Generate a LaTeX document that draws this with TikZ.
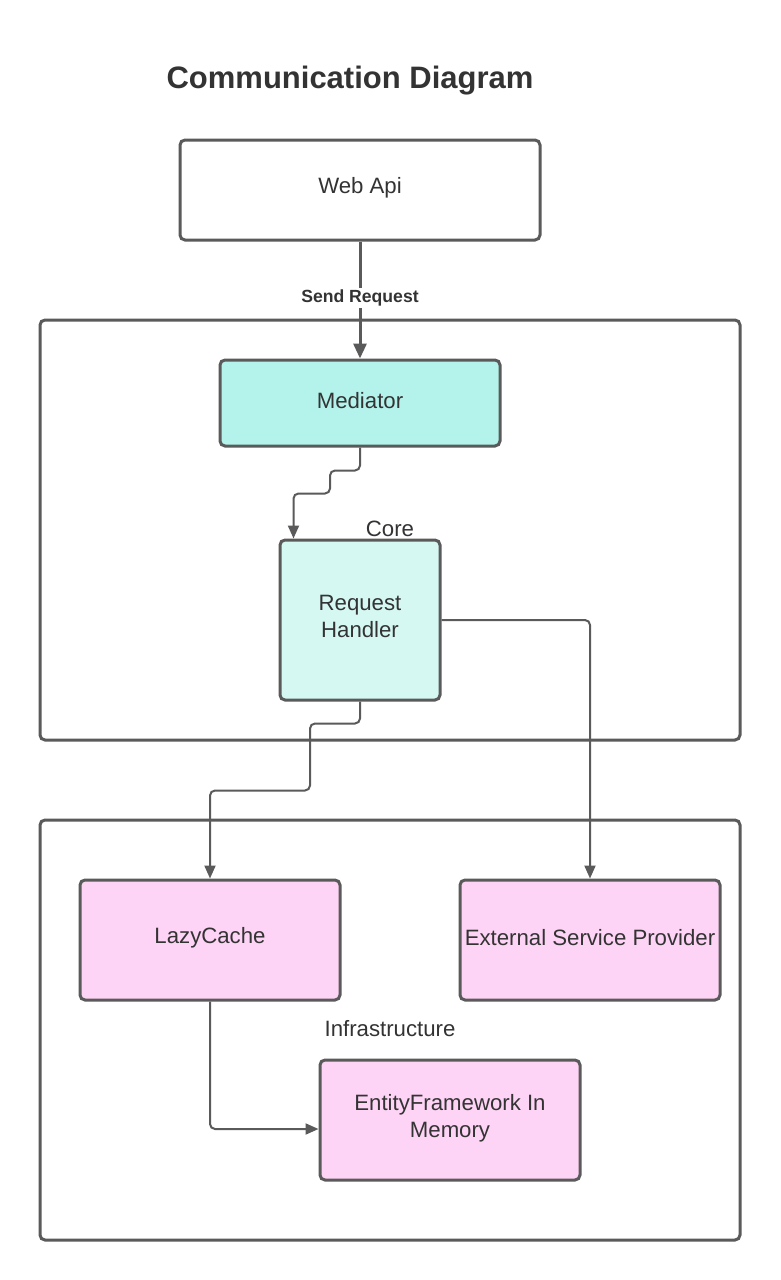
\documentclass[tikz,border=0pt]{standalone}
\usepackage{fontspec}
\setmainfont{Liberation Sans}
\usetikzlibrary{arrows.meta}
\definecolor{strk}{HTML}{5A5A5A}
\definecolor{txt}{HTML}{333333}
\definecolor{medfill}{HTML}{B3F3EB}
\definecolor{rhfill}{HTML}{D6F8F3}
\definecolor{pinkfill}{HTML}{FDD4F5}
\tikzset{
  box/.style={draw=strk, line width=3pt, rounded corners=5pt, fill=white, inner sep=0pt},
  boxlbl/.style={text=txt, font=\fontsize{22.2}{27}\selectfont, align=center, inner sep=0pt, yshift=2pt},
  container/.style={draw=strk, line width=3pt, rounded corners=5pt, inner sep=0pt},
  lbl/.style={text=txt, font=\fontsize{22.2}{27}\selectfont, inner sep=0pt},
  conn/.style={draw=strk, line width=2pt, rounded corners=5pt,
    -{Triangle[length=13pt,width=11pt]}},
  thick conn/.style={draw=strk, line width=3pt,
    -{Triangle[length=15pt,width=13pt]}}
}
\begin{document}
\begin{tikzpicture}[x=1pt,y=-1pt]
\useasboundingbox[fill=white] (0,0) rectangle (780,1280);

\node[text=txt, font=\fontsize{31}{36}\selectfont\bfseries, inner sep=0pt] (title) at (350,80.5) {Communication Diagram};

\node[container, minimum width=700pt, minimum height=420pt] (core) at (390,530) {};
\node[container, minimum width=700pt, minimum height=420pt] (infra) at (390,1030) {};

\node[box, minimum width=360pt, minimum height=100pt, label={[boxlbl]center:{Web Api}}] (web) at (360,190) {};
\node[box, fill=medfill, minimum width=280pt, minimum height=86pt, label={[boxlbl]center:{Mediator}}] (med) at (360,403) {};
\node[box, fill=rhfill, minimum width=160pt, minimum height=160pt, label={[boxlbl, yshift=1.5pt]center:{Request\\Handler}}] (rh) at (360,620) {};
\node[box, fill=pinkfill, minimum width=260pt, minimum height=120pt, label={[boxlbl]center:{LazyCache}}] (lazy) at (210,940) {};
\node[box, fill=pinkfill, minimum width=260pt, minimum height=120pt, label={[boxlbl]center:{External Service Provider}}] (esp) at (590,940) {};
\node[box, fill=pinkfill, minimum width=260pt, minimum height=120pt, label={[boxlbl]center:{EntityFramework In\\Memory}}] (ef) at (450,1120) {};

\node[lbl] (corelbl) at (390,529) {Core};
\node[lbl] (infralbl) at (390,1029) {Infrastructure};

\draw[thick conn] (web.south) -- (med.north);
\node[fill=white, text=txt, font=\fontsize{17.6}{21}\selectfont\bfseries, inner sep=2pt] (send) at (360,298) {Send Request};

\draw[conn] (med.south) -- ++(0,23) -| ++(-30,23) -| ([xshift=15pt]rh.north west);
\draw[conn] (rh.south) -- ++(0,22) -| ++(-50,67) -| (lazy.north);
\draw[conn] (rh.east) -| (esp.north);
\draw[conn] (lazy.south) |- ([yshift=-9pt]ef.west);
\end{tikzpicture}
\end{document}
